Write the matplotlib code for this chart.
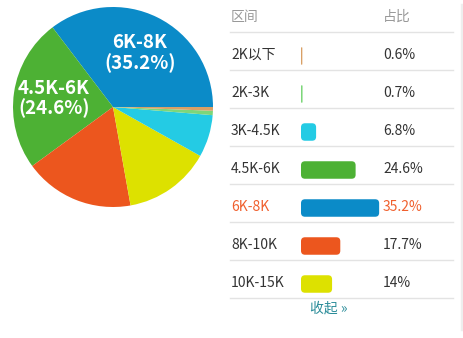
import numpy as np
import matplotlib
matplotlib.use("Agg")
import matplotlib.pyplot as plt
from matplotlib.patches import FancyBboxPatch

plt.rcParams['font.family'] = ['Noto Sans CJK SC', 'DejaVu Sans']

# salary ranges and share (%)
ranges = ["2K以下", "2K-3K", "3K-4.5K", "4.5K-6K", "6K-8K", "8K-10K", "10K-15K"]
shares = [0.6, 0.7, 6.8, 24.6, 35.2, 17.7, 14]
share_labels = ["0.6%", "0.7%", "6.8%", "24.6%", "35.2%", "17.7%", "14%"]
colors = ["#d9a066", "#7dd67a", "#24cbe4", "#4db134", "#0b8bc8", "#ec561e", "#dde100"]
pie_order = [4, 3, 5, 6, 2, 1, 0]   # counter-clockwise from 3 o'clock
highlight = 4

W, H = 464, 338
fig = plt.figure(figsize=(W / 100, H / 100), dpi=100)
fig.patch.set_facecolor("white")

# --- pie ---
cx, cy, r = 113, 107, 100
axp = fig.add_axes([(cx - r) / W, (H - cy - r) / H, 2 * r / W, 2 * r / H])
vals = [shares[i] for i in pie_order]
cols = [colors[i] for i in pie_order]
wedges, _ = axp.pie(vals, colors=cols, startangle=0, counterclock=True,
                    radius=1, wedgeprops=dict(linewidth=0))
axp.set_xlim(-1, 1)
axp.set_ylim(-1, 1)
axp.set_aspect("equal")
axp.axis("off")

# labels only on the two biggest slices
tot = sum(vals)
ang = 0
for k, i in enumerate(pie_order):
    a0 = ang
    ang += vals[k] / tot * 360
    if shares[i] < 20:
        continue
    mid = np.deg2rad((a0 + ang) / 2)
    rr = 0.6
    axp.text(rr * np.cos(mid), rr * np.sin(mid), f"{ranges[i]}\n({shares[i]}%)",
             ha="center", va="center", color="white", fontsize=13.5,
             fontweight="bold", linespacing=1.05)

# --- table text / lines (pixel coords) ---
axt = fig.add_axes([0, 0, 1, 1])
axt.set_xlim(0, W)
axt.set_ylim(H, 0)
axt.axis("off")

fs = 10
axt.text(231, 17, "区间", color="#999999", fontsize=fs, va="center")
axt.text(383, 17, "占比", color="#999999", fontsize=fs, va="center")
for i in range(len(ranges) + 1):
    y = 32 + 38 * i
    axt.plot([230, 453], [y, y], color="#e3e3e3", lw=1)
for i, name in enumerate(ranges):
    y = 55 + 38 * i
    c = "#f0602e" if i == highlight else "#333333"
    axt.text(231, y, name, color=c, fontsize=fs, va="center")
    axt.text(383, y, share_labels[i], color=c, fontsize=fs, va="center")
axt.text(329, 309, "收起 »", color="#2a8c99", fontsize=fs, va="center", ha="center")
axt.plot([462, 462], [5, 329], color="#eeeeee", lw=2.5)

# --- bars ---
px_per_pct = 2.22
bw = 50 * px_per_pct
axb = fig.add_axes([301 / W, (H - 298) / H, bw / W, 266 / H])
axb.set_xlim(0, 50)
axb.set_ylim(7, 0)
axb.axis("off")
bar_h = 17.5 / 38
asp = (1 / 38) / (1 / px_per_pct)
for i, v in enumerate(shares):
    yc = i + 24 / 38
    rs = min(1.8, v / 2)
    p = FancyBboxPatch((0, yc - bar_h / 2), v, bar_h,
                       boxstyle=f"round,pad=0,rounding_size={rs}",
                       mutation_aspect=asp, facecolor=colors[i],
                       edgecolor="none", clip_on=False)
    axb.add_patch(p)

fig.savefig("out.png", dpi=100, facecolor="white")
